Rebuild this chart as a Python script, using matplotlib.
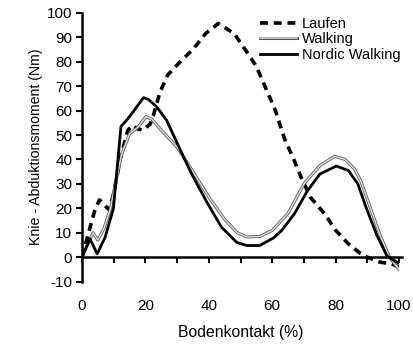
import matplotlib
matplotlib.use("Agg")
import matplotlib.pyplot as plt
import matplotlib.patheffects as pe

plt.rcParams['font.family'] = ['Liberation Sans', 'DejaVu Sans']
plt.rcParams['axes.unicode_minus'] = False

# Laufen (dashed)
lauf_x = [0, 2.5, 4, 5.5, 8.5, 10, 12, 14.5, 16, 17.5, 19.3, 21.5, 22.5, 24.6, 27, 31, 35, 39, 43,
          48, 52.5, 55, 57, 61, 64, 66.5, 69, 72, 76.5, 80, 84, 86.7, 88.7, 91, 94, 97.7, 100]
lauf_y = [0, 12, 19, 23.5, 19.5, 26, 40, 52, 54, 52.5, 52, 54.5, 58, 67.5, 74.5, 80, 85, 91.5, 95.6,
          91.5, 83, 78, 72, 60, 48, 41, 33, 24.6, 17.8, 11, 5.5, 2.7, 0.7, -0.5, -2, -2.7, -4]

# Walking
walk_x = [0, 1, 3.5, 5, 7, 9, 10.5, 12.5, 15, 17.5, 20.2, 22, 25, 30, 35, 40, 45, 49, 52, 56,
          60, 65, 70, 75, 79.7, 83, 86, 88, 91, 94, 97, 100]
walk_y = [0, 3, 10, 7, 12, 20, 30, 42, 50.5, 53, 57.5, 56.5, 52, 45, 35, 24.6, 15.5, 10, 8.3, 8.5,
          11, 18, 30, 37.5, 41.3, 40, 36, 31, 20, 9, 0, -5]

# Nordic Walking
nw_x = [0, 2.5, 4.8, 7.3, 9.9, 12.3, 14.5, 17, 19.4, 21, 23.6, 26.7, 29.9, 34.6, 39.4, 44, 48.8,
        52, 56, 60.4, 63, 67, 71, 75, 80.2, 84, 87, 89.7, 93, 96.1, 98, 100]
nw_y = [0, 7.6, 1.4, 8.2, 19.8, 53.5, 56.7, 61, 65.3, 64.5, 61.5, 56, 47, 34, 22.5, 12.3, 6.1,
        4.8, 4.8, 7.9, 11, 17.8, 27, 34, 37.3, 35.5, 30, 20, 9, 0.7, -1, -2.5]

fig = plt.figure(figsize=(4.14, 3.44), dpi=100)
ax = fig.add_axes([0.198, 0.181, 0.766, 0.782])

ax.plot(lauf_x, lauf_y, color="black", linewidth=2.6, linestyle=(0, (2.2, 1.6)), label="Laufen")
ax.plot(walk_x, walk_y, color="#d8d8d8", linewidth=1.1, label="Walking",
        path_effects=[pe.Stroke(linewidth=2.2, foreground="#555555"), pe.Normal()])
ax.plot(nw_x, nw_y, color="black", linewidth=2.0, label="Nordic Walking")

ax.set_xlim(0, 100)
ax.set_ylim(-10, 100)
ax.spines['top'].set_visible(False)
ax.spines['right'].set_visible(False)
ax.spines['bottom'].set_position(('data', 0))
ax.spines['bottom'].set_linewidth(1.8)
ax.spines['left'].set_linewidth(1.8)
ax.spines['bottom'].set_bounds(0, 101)

ax.set_yticks(range(-10, 101, 10))
ax.set_xticks(range(0, 101, 10))
ax.set_xticklabels([str(v) if v % 20 == 0 else "" for v in range(0, 101, 10)])
ax.tick_params(axis='both', direction='out', length=4, width=1.5, labelsize=11)
ax.tick_params(axis='x', pad=26)
ax.tick_params(axis='y', pad=3)

ax.set_xlabel("Bodenkontakt (%)", fontsize=11.3, labelpad=9)
ax.set_ylabel("Knie - Abduktionsmoment (Nm)", fontsize=10.2, labelpad=3)

ax.legend(loc="upper left", bbox_to_anchor=(0.56, 0.985), frameon=False, fontsize=10.5,
          handlelength=2.6, handletextpad=0.3, labelspacing=0.1, borderaxespad=0, borderpad=0)

fig.savefig("out.png", dpi=100)
